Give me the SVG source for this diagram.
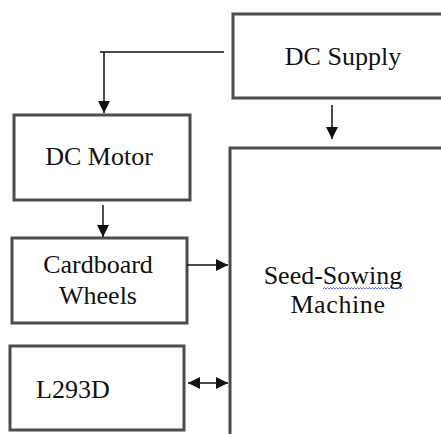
<svg xmlns="http://www.w3.org/2000/svg" width="441" height="434" viewBox="0 0 441 434">
<style>
.box{fill:#fff;stroke:#4d4d4d;stroke-width:3}
.t{font-family:'Liberation Serif',serif;font-size:26px;fill:#111}
.c{fill:none;stroke:#111;stroke-width:1.5}
.sq{fill:none;stroke:#3344dd;stroke-width:0.8}
</style>
<defs>
<marker id="ahb" viewBox="0 0 10 10" refX="10" refY="5" markerWidth="12" markerHeight="12" markerUnits="userSpaceOnUse" orient="auto-start-reverse">
<path d="M0,0 L10,5 L0,10 z" fill="#111"/>
</marker>
</defs>
<rect width="441" height="434" fill="#fff"/>
<g id="dc-supply">
<rect class="box" x="233" y="14" width="220" height="84"/>
<text class="t" x="343" y="65" text-anchor="middle">DC Supply</text>
</g>
<g id="dc-motor">
<rect class="box" x="14" y="115" width="176" height="85"/>
<text class="t" x="99" y="165" text-anchor="middle">DC Motor</text>
</g>
<g id="cardboard-wheels">
<rect class="box" x="12" y="238" width="175" height="85"/>
<text class="t" x="98" y="273" text-anchor="middle">Cardboard</text>
<text class="t" x="98" y="304" text-anchor="middle">Wheels</text>
</g>
<g id="l293d">
<rect class="box" x="10" y="346" width="174" height="84"/>
<text class="t" x="36" y="398">L293D</text>
</g>
<g id="machine">
<rect class="box" x="230" y="148" width="230" height="300"/>
<text class="t" x="333" y="284" text-anchor="middle">Seed-Sowing</text>
<text class="t" x="338" y="313" text-anchor="middle" letter-spacing="0.6">Machine</text>
<path class="sq" d="M323,289 l1.5,-1.5 l1.5,1.5 l1.5,-1.5 l1.5,1.5 l1.5,-1.5 l1.5,1.5 l1.5,-1.5 l1.5,1.5 l1.5,-1.5 l1.5,1.5 l1.5,-1.5 l1.5,1.5 l1.5,-1.5 l1.5,1.5 l1.5,-1.5 l1.5,1.5 l1.5,-1.5 l1.5,1.5 l1.5,-1.5 l1.5,1.5 l1.5,-1.5 l1.5,1.5 l1.5,-1.5 l1.5,1.5 l1.5,-1.5 l1.5,1.5 l1.5,-1.5 l1.5,1.5 l1.5,-1.5 l1.5,1.5 l1.5,-1.5 l1.5,1.5 l1.5,-1.5 l1.5,1.5 l1.5,-1.5 l1.5,1.5 l1.5,-1.5 l1.5,1.5 l1.5,-1.5 l1.5,1.5 l1.5,-1.5 l1.5,1.5 l1.5,-1.5 l1.5,1.5 l1.5,-1.5 l1.5,1.5 l1.5,-1.5 l1.5,1.5 l1.5,-1.5 l1.5,1.5 l1.5,-1.5 l1.5,1.5 l1.5,-1.5"/>
</g>
<g id="connectors">
<path class="c" d="M224,52 H100"/>
<path class="c" d="M104,52 V113" marker-end="url(#ahb)"/>
<path class="c" d="M332,105 V139" marker-end="url(#ahb)"/>
<path class="c" d="M103,205 V237" marker-end="url(#ahb)"/>
<path class="c" d="M187,265 H228" marker-end="url(#ahb)"/>
<path class="c" d="M188,383 H228" marker-start="url(#ahb)" marker-end="url(#ahb)"/>
</g>
</svg>
